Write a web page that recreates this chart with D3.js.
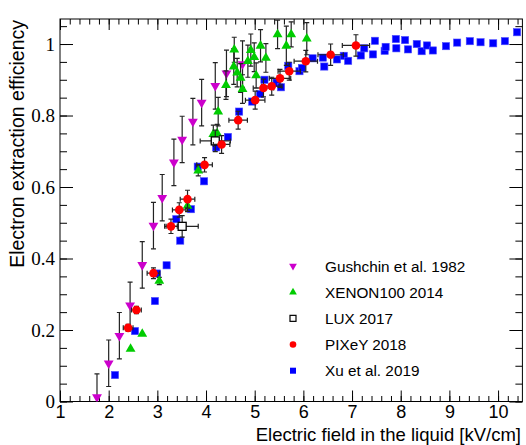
<!DOCTYPE html>
<html>
<head>
<meta charset="utf-8">
<script src="https://cdn.jsdelivr.net/npm/d3@7"></script>
<style>
  body { margin: 0; background: #fff; }
  svg { display: block; }
</style>
</head>
<body>
<svg id="chart"></svg>
<script>
// Gushchin et al. 1982
const gushchinX = [1.76, 2.0, 2.22, 2.44, 2.69, 2.92, 3.1, 3.34, 3.51, 3.73, 3.91, 4.19, 4.42, 4.75];
const gushchinY = [0.012, 0.107, 0.184, 0.269, 0.382, 0.492, 0.57, 0.669, 0.733, 0.783, 0.836, 0.883, 0.918, 0.944];
const gushchinErr = [0.065, 0.065, 0.065, 0.065, 0.065, 0.065, 0.065, 0.065, 0.065, 0.065, 0.065, 0.065, 0.065, 0.065];

// XENON100 2014
const xenonX = [2.45, 2.69, 3.04, 3.62, 3.84, 4.15, 4.23, 4.25, 4.41, 4.57, 4.58, 4.64, 4.71, 4.75, 4.86, 4.92, 4.99, 5.03, 5.12, 5.23, 5.47, 5.65, 5.75, 6.07];
const xenonY = [0.147, 0.189, 0.337, 0.547, 0.646, 0.748, 0.75, 0.811, 0.885, 0.937, 0.984, 0.92, 0.905, 0.874, 0.952, 0.983, 0.963, 0.912, 0.995, 0.961, 1.027, 0.995, 1.027, 1.015];
const xenonErr = [0, 0, 0.01, 0.015, 0.015, 0.025, 0.025, 0.04, 0.04, 0.05, 0.035, 0.04, 0.04, 0.04, 0.045, 0.045, 0.04, 0.035, 0.045, 0.04, 0.04, 0.055, 0.035, 0.045];

// LUX 2017
const luxX = [3.51, 4.19];
const luxY = [0.49, 0.729];
const luxErrX = [0.33, 0.31];
const luxErrY = [0.03, 0.03];

// PIXeY 2018
const pixeyX = [2.4, 2.57, 2.92, 3.28, 3.45, 3.62, 3.97, 4.32, 4.66, 5.01, 5.18, 5.35, 5.52, 5.71, 6.05, 6.56, 7.08];
const pixeyY = [0.206, 0.256, 0.359, 0.49, 0.536, 0.566, 0.662, 0.719, 0.787, 0.843, 0.877, 0.882, 0.904, 0.924, 0.952, 0.97, 0.996];
const pixeyErrX = [0.1, 0.1, 0.13, 0.13, 0.14, 0.15, 0.16, 0.17, 0.19, 0.2, 0.21, 0.21, 0.22, 0.23, 0.24, 0.26, 0.28];
const pixeyErrY = [0.01, 0.01, 0.015, 0.02, 0.02, 0.025, 0.02, 0.025, 0.025, 0.025, 0.025, 0.025, 0.025, 0.025, 0.03, 0.03, 0.03];

// Xu et al. 2019
const xuX = [2.13, 2.54, 2.95, 2.99, 3.19, 3.39, 3.47, 3.69, 3.83, 3.96, 4.21, 4.45, 4.68, 4.95, 5.11, 5.2, 5.45, 5.54, 5.69, 5.92, 5.97, 6.19, 6.4, 6.43, 6.69, 6.83, 6.92, 7.18, 7.25, 7.43, 7.47, 7.67, 7.69, 7.9, 7.91, 8.09, 8.15, 8.33, 8.43, 8.54, 8.66, 8.93, 9.16, 9.42, 9.64, 9.9, 10.14, 10.39];
const xuY = [0.074, 0.197, 0.281, 0.358, 0.381, 0.51, 0.45, 0.538, 0.657, 0.616, 0.711, 0.74, 0.811, 0.839, 0.86, 0.9, 0.892, 0.879, 0.939, 0.924, 0.933, 0.96, 0.962, 0.937, 0.957, 0.967, 0.953, 0.968, 0.988, 0.971, 1.009, 0.981, 0.992, 1.014, 0.988, 1.011, 0.985, 1.0, 0.98, 0.996, 0.982, 0.994, 1.004, 1.008, 1.005, 1.002, 1.008, 1.033];

const xTicks = [1, 2, 3, 4, 5, 6, 7, 8, 9, 10];
const yTicks = [0, 0.2, 0.4, 0.6, 0.8, 1];
const legendLabels = ["Gushchin et al. 1982", "XENON100 2014", "LUX 2017", "PIXeY 2018", "Xu et al. 2019"];

const width = 526;
const height = 445;
const margin = { top: 19, right: 3.6, bottom: 43.5, left: 60 };

const sans = "'Liberation Sans', Arial, sans-serif";
const serif = "'Liberation Serif', 'Times New Roman', serif";

const x = d3.scaleLinear().domain([1, 10.5]).range([margin.left, width - margin.right]);
const y = d3.scaleLinear().domain([0, 1.07]).range([height - margin.bottom, margin.top]);

const svg = d3.select("#chart").attr("width", width).attr("height", height);

svg.append("defs").append("clipPath").attr("id", "plot-clip")
  .append("rect")
  .attr("x", margin.left).attr("y", margin.top)
  .attr("width", width - margin.left - margin.right)
  .attr("height", height - margin.top - margin.bottom);

// axes with inward ticks, ROOT style
const xMinor = d3.range(1, 10.5, 0.2);
const yMinor = d3.range(0, 1.07, 0.05);

const bottom = height - margin.bottom;
const right = width - margin.right;

function noDomain(g) { g.select(".domain").remove(); }

svg.append("g").attr("transform", `translate(0,${bottom})`)
  .call(d3.axisBottom(x).tickValues(xMinor).tickSize(-5.5).tickFormat(""))
  .call(noDomain);
svg.append("g").attr("transform", `translate(0,${bottom})`)
  .call(d3.axisBottom(x).tickValues(xTicks).tickSize(-11).tickPadding(4).tickFormat(d3.format("d")))
  .call(noDomain)
  .call(g => g.selectAll("text").style("font-family", sans).attr("font-size", 18).attr("fill", "#000"));
svg.append("g").attr("transform", `translate(0,${margin.top})`)
  .call(d3.axisTop(x).tickValues(xMinor).tickSize(-5.5).tickFormat(""))
  .call(noDomain);
svg.append("g").attr("transform", `translate(0,${margin.top})`)
  .call(d3.axisTop(x).tickValues(xTicks).tickSize(-11).tickFormat(""))
  .call(noDomain);

svg.append("g").attr("transform", `translate(${margin.left},0)`)
  .call(d3.axisLeft(y).tickValues(yMinor).tickSize(-7).tickFormat(""))
  .call(noDomain);
svg.append("g").attr("transform", `translate(${margin.left},0)`)
  .call(d3.axisLeft(y).tickValues(yTicks).tickSize(-13).tickPadding(5).tickFormat(d3.format("")))
  .call(noDomain)
  .call(g => g.selectAll("text").style("font-family", serif).attr("font-size", 19).attr("fill", "#000"));
svg.append("g").attr("transform", `translate(${right},0)`)
  .call(d3.axisRight(y).tickValues(yMinor).tickSize(-7).tickFormat(""))
  .call(noDomain);
svg.append("g").attr("transform", `translate(${right},0)`)
  .call(d3.axisRight(y).tickValues(yTicks).tickSize(-13).tickFormat(""))
  .call(noDomain);

svg.selectAll(".tick line").attr("stroke", "#000");

svg.append("rect")
  .attr("x", margin.left).attr("y", margin.top)
  .attr("width", right - margin.left).attr("height", bottom - margin.top)
  .attr("fill", "none").attr("stroke", "#000").attr("stroke-width", 1);

// axis titles
svg.append("text")
  .attr("x", width - 5).attr("y", height - 4)
  .attr("text-anchor", "end")
  .style("font-family", sans).attr("font-size", 18.5)
  .text("Electric field in the liquid [kV/cm]");

svg.append("text")
  .attr("transform", "translate(24,20) rotate(-90)")
  .attr("text-anchor", "end")
  .style("font-family", sans).attr("font-size", 19.5)
  .text("Electron extraction efficiency");

// data layer
const plot = svg.append("g").attr("clip-path", "url(#plot-clip)");
const cap = 2.5;

function yBars(g, xs, ys, es) {
  const pts = xs.map((v, i) => ({ x: v, y: ys[i], e: es[i] })).filter(d => d.e > 0);
  const bar = g.append("g").attr("stroke", "#222").attr("stroke-width", 1.2);
  bar.selectAll(".v").data(pts).join("line")
    .attr("x1", d => x(d.x)).attr("x2", d => x(d.x))
    .attr("y1", d => y(d.y - d.e)).attr("y2", d => y(d.y + d.e));
  bar.selectAll(".c1").data(pts).join("line")
    .attr("x1", d => x(d.x) - cap).attr("x2", d => x(d.x) + cap)
    .attr("y1", d => y(d.y - d.e)).attr("y2", d => y(d.y - d.e));
  bar.selectAll(".c2").data(pts).join("line")
    .attr("x1", d => x(d.x) - cap).attr("x2", d => x(d.x) + cap)
    .attr("y1", d => y(d.y + d.e)).attr("y2", d => y(d.y + d.e));
}

function xBars(g, xs, ys, es) {
  const pts = xs.map((v, i) => ({ x: v, y: ys[i], e: es[i] }));
  const bar = g.append("g").attr("stroke", "#222").attr("stroke-width", 1.2);
  bar.selectAll(".h").data(pts).join("line")
    .attr("x1", d => x(d.x - d.e)).attr("x2", d => x(d.x + d.e))
    .attr("y1", d => y(d.y)).attr("y2", d => y(d.y));
  bar.selectAll(".c1").data(pts).join("line")
    .attr("x1", d => x(d.x - d.e)).attr("x2", d => x(d.x - d.e))
    .attr("y1", d => y(d.y) - cap).attr("y2", d => y(d.y) + cap);
  bar.selectAll(".c2").data(pts).join("line")
    .attr("x1", d => x(d.x + d.e)).attr("x2", d => x(d.x + d.e))
    .attr("y1", d => y(d.y) - cap).attr("y2", d => y(d.y) + cap);
}

const triUp = d3.symbol(d3.symbolTriangle, 42);
const triSmall = d3.symbol(d3.symbolTriangle, 26);

// Xu et al. 2019 (drawn underneath)
plot.append("g").selectAll("rect").data(d3.zip(xuX, xuY)).join("rect")
  .attr("x", d => x(d[0]) - 3.6).attr("y", d => y(d[1]) - 3.6)
  .attr("width", 7.2).attr("height", 7.2)
  .attr("fill", "#0000ff").attr("stroke", "#4d4dff").attr("stroke-width", 0.6);

// Gushchin
const gG = plot.append("g");
yBars(gG, gushchinX, gushchinY, gushchinErr);
gG.append("g").selectAll("path").data(d3.zip(gushchinX, gushchinY)).join("path")
  .attr("d", triUp)
  .attr("transform", d => `translate(${x(d[0])},${y(d[1])}) rotate(180)`)
  .attr("fill", "#cc00cc");

// XENON100
const gX = plot.append("g");
yBars(gX, xenonX, xenonY, xenonErr);
gX.append("g").selectAll("path").data(d3.zip(xenonX, xenonY)).join("path")
  .attr("d", triUp)
  .attr("transform", d => `translate(${x(d[0])},${y(d[1])})`)
  .attr("fill", "#00cc00");

// LUX
const gL = plot.append("g");
yBars(gL, luxX, luxY, luxErrY);
xBars(gL, luxX, luxY, luxErrX);
gL.append("g").selectAll("rect").data(d3.zip(luxX, luxY)).join("rect")
  .attr("x", d => x(d[0]) - 4).attr("y", d => y(d[1]) - 4)
  .attr("width", 8).attr("height", 8)
  .attr("fill", "#fff").attr("stroke", "#000").attr("stroke-width", 1.3);

// PIXeY
const gP = plot.append("g");
yBars(gP, pixeyX, pixeyY, pixeyErrY);
xBars(gP, pixeyX, pixeyY, pixeyErrX);
gP.append("g").selectAll("circle").data(d3.zip(pixeyX, pixeyY)).join("circle")
  .attr("cx", d => x(d[0])).attr("cy", d => y(d[1]))
  .attr("r", 4.3)
  .attr("fill", "#ff0000");

// legend
const legendY = d3.scalePoint().domain(legendLabels).range([266, 370.7]);
const legend = svg.append("g").style("font-family", sans).attr("font-size", 15.3);
const lx = 293;

legend.selectAll("text").data(legendLabels).join("text")
  .attr("x", 325).attr("y", d => legendY(d)).attr("dy", "0.36em")
  .text(d => d);

legend.append("path").attr("d", triSmall)
  .attr("transform", `translate(${lx},${legendY(legendLabels[0])}) rotate(180)`)
  .attr("fill", "#cc00cc");
legend.append("path").attr("d", triSmall)
  .attr("transform", `translate(${lx},${legendY(legendLabels[1])})`)
  .attr("fill", "#00cc00");
legend.append("rect")
  .attr("x", lx - 3).attr("y", legendY(legendLabels[2]) - 3)
  .attr("width", 6).attr("height", 6)
  .attr("fill", "#fff").attr("stroke", "#000").attr("stroke-width", 1.2);
legend.append("circle")
  .attr("cx", lx).attr("cy", legendY(legendLabels[3])).attr("r", 3.3)
  .attr("fill", "#ff0000");
legend.append("rect")
  .attr("x", lx - 3).attr("y", legendY(legendLabels[4]) - 3)
  .attr("width", 6).attr("height", 6)
  .attr("fill", "#0000ff");
</script>
</body>
</html>
